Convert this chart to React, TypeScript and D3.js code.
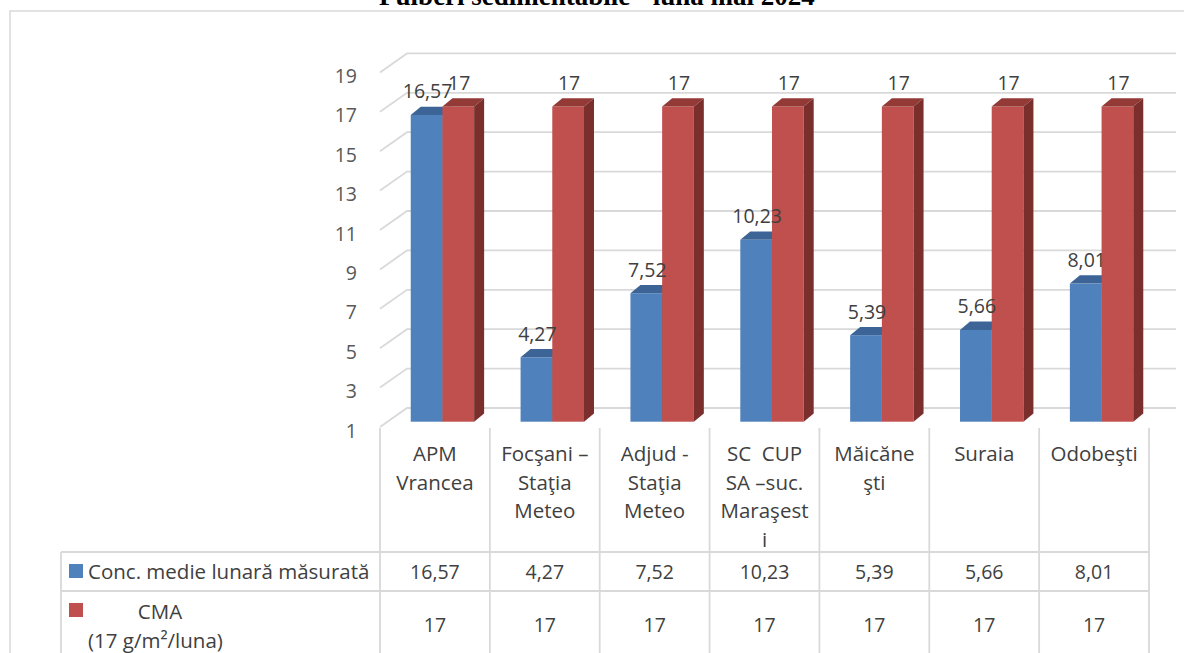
import React from "react";
import * as d3 from "d3";

const categories: string[][] = [
  ["APM", "Vrancea"],
  ["Focşani –", "Staţia", "Meteo"],
  ["Adjud -", "Staţia", "Meteo"],
  ["SC  CUP", "SA –suc.", "Maraşest", "i"],
  ["Măicăne", "şti"],
  ["Suraia"],
  ["Odobeşti"],
];
const measured: number[] = [16.57, 4.27, 7.52, 10.23, 5.39, 5.66, 8.01];
const cma: number[] = [17, 17, 17, 17, 17, 17, 17];
const yTicks: number[] = [1, 3, 5, 7, 9, 11, 13, 15, 17, 19];
const seriesNames = ["Conc. medie lunară măsurată", "CMA"];
const title = "Pulberi sedimentabile - luna mai 2024";

const W = 1184;
const H = 653;
const FONT = "'Open Sans', 'Noto Sans', sans-serif";
const FS = 19.5;
const FS_CAT = 20.5;
const TXT = "#404040";
const GRID = "#d9d9d9";

const fmt = (v: number) => (Number.isInteger(v) ? String(v) : v.toFixed(2).replace(".", ","));

export default function App() {
  const x = d3
    .scaleBand<number>()
    .domain(d3.range(categories.length))
    .range([380, 1149]);
  const inner = d3.scaleBand<number>().domain([0, 1]).range([0, 63.4]);
  const y = d3.scaleLinear().domain([1, 19]).range([427, 427 - 18 * 19.7]);

  const wallDx = 27;
  const wallDy = 19;
  const barOffX = 7.5;
  const barOffY = 5.3;
  const depX = 10;
  const depY = 8.3;

  const colors = [
    { front: "#4f81bd", top: "#3c6496", side: "#37608f" },
    { front: "#c0504d", top: "#933a37", side: "#7b2f2d" },
  ];
  const series = [measured, cma];

  const bars: React.ReactNode[] = [];
  const labels: React.ReactNode[] = [];
  categories.forEach((_, i) => {
    const c = (x(i) as number) + x.bandwidth() / 2;
    const pairLeft = c + barOffX - 31.7;
    series.forEach((vals, s) => {
      const v = vals[i];
      const x0 = pairLeft + (inner(s) as number);
      const x1 = x0 + inner.bandwidth();
      const yt = y(v) - barOffY;
      const yb = y(1) - barOffY;
      const col = colors[s];
      bars.push(
        <g key={`b${i}-${s}`}>
          <rect x={x0} y={yt} width={x1 - x0} height={yb - yt} fill={col.front} />
          <polygon
            points={`${x0},${yt} ${x1},${yt} ${x1 + depX},${yt - depY} ${x0 + depX},${yt - depY}`}
            fill={col.top}
          />
          <polygon
            points={`${x1},${yt} ${x1 + depX},${yt - depY} ${x1 + depX},${yb - depY} ${x1},${yb}`}
            fill={col.side}
          />
        </g>
      );
      labels.push(
        <text
          key={`l${i}-${s}`}
          x={(x0 + x1) / 2 + 1}
          y={yt - 24}
          textAnchor="middle"
          dominantBaseline="central"
          fontFamily={FONT}
          fontSize={FS}
          fill={TXT}
        >
          {fmt(v)}
        </text>
      );
    });
  });

  const colLines = d3.range(categories.length + 1).map((i) => 380 + i * x.step());
  const rowTop = 552;
  const rowMid = 591;

  return (
    <div style={{ position: "fixed", left: 0, top: 0 }}>
      <svg width={W} height={H} style={{ display: "block", background: "#fff" }}>
        <text
          x={597}
          y={5}
          textAnchor="middle"
          fontFamily="'Liberation Serif', 'Times New Roman', serif"
          fontWeight="bold"
          fontSize={27}
          fill="#000"
        >
          {title}
        </text>
        {/* outer frame */}
        <path d={`M10,${H + 5} L10,11 L${W + 5},11`} fill="none" stroke={GRID} strokeWidth={1.5} />

        {/* grid lines */}
        {yTicks.map((t) => (
          <path
            key={`g${t}`}
            d={`M380,${y(t)} L${380 + wallDx},${y(t) - wallDy} L${1149 + wallDx},${y(t) - wallDy}`}
            fill="none"
            stroke={GRID}
            strokeWidth={1.8}
          />
        ))}
        {yTicks.map((t) => (
          <text
            key={`t${t}`}
            x={357}
            y={y(t) + 3}
            textAnchor="end"
            dominantBaseline="central"
            fontFamily={FONT}
            fontSize={FS}
            fill="#595959"
          >
            {t}
          </text>
        ))}

        {bars}
        {labels}

        {/* table lines */}
        {colLines.map((cx, i) => (
          <line key={`c${i}`} x1={cx} x2={cx} y1={428} y2={H} stroke={GRID} strokeWidth={1.8} />
        ))}
        <line x1={61} x2={61} y1={rowTop} y2={H} stroke={GRID} strokeWidth={1.8} />
        <line x1={61} x2={1149} y1={rowTop} y2={rowTop} stroke={GRID} strokeWidth={1.8} />
        <line x1={61} x2={1149} y1={rowMid} y2={rowMid} stroke={GRID} strokeWidth={1.8} />

        {/* category labels */}
        {categories.map((lines, i) => (
          <text
            key={`cat${i}`}
            textAnchor="middle"
            fontFamily={FONT}
            fontSize={FS_CAT}
            fill={TXT}
          >
            {lines.map((ln, j) => (
              <tspan
                key={j}
                x={(x(i) as number) + x.bandwidth() / 2}
                y={453 + j * 28.5}
                dominantBaseline="central"
                style={{ whiteSpace: "pre" }}
              >
                {ln}
              </tspan>
            ))}
          </text>
        ))}

        {/* legend cells */}
        <rect x={69} y={564} width={14} height={14} fill={colors[0].front} />
        <text x={88} y={571} dominantBaseline="central" fontFamily={FONT} fontSize={FS_CAT} fill={TXT}>
          {seriesNames[0]}
        </text>
        <rect x={69} y={603} width={14} height={14} fill={colors[1].front} />
        <text x={160} y={611} textAnchor="middle" dominantBaseline="central" fontFamily={FONT} fontSize={FS_CAT} fill={TXT}>
          {seriesNames[1]}
        </text>
        <text x={88} y={640} dominantBaseline="central" fontFamily={FONT} fontSize={FS_CAT} fill={TXT}>
          (17 g/m²/luna)
        </text>

        {/* table values */}
        {series.map((vals, s) =>
          vals.map((v, i) => (
            <text
              key={`v${s}-${i}`}
              x={(x(i) as number) + x.bandwidth() / 2}
              y={s === 0 ? 571 : 624}
              textAnchor="middle"
              dominantBaseline="central"
              fontFamily={FONT}
              fontSize={FS}
              fill={TXT}
            >
              {fmt(v)}
            </text>
          ))
        )}
      </svg>
    </div>
  );
}
